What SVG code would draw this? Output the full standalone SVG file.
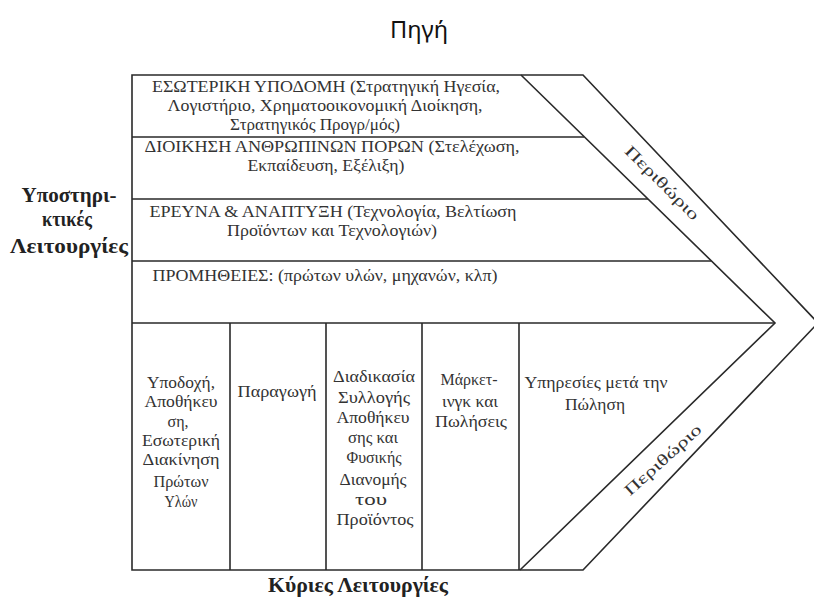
<svg xmlns="http://www.w3.org/2000/svg" width="814" height="599" viewBox="0 0 814 599">
<style>
.ln{stroke:#2a2a2a;stroke-width:1.6;fill:none;stroke-linejoin:miter}
.t{font-family:"Liberation Serif","Times New Roman",serif;font-size:16px;fill:#333;text-anchor:middle}
.b{font-family:"Liberation Serif","Times New Roman",serif;font-size:20px;font-weight:bold;fill:#222;text-anchor:middle}
.h{font-family:"Noto Sans","Open Sans",sans-serif;font-size:23px;fill:#111;text-anchor:middle}
</style>
<rect width="814" height="599" fill="#fff"/>
<text class="h" x="419" y="38" textLength="58" lengthAdjust="spacingAndGlyphs">Πηγή</text>
<g id="frame">
<path class="ln" d="M132,75 H583 L818,323 L583,570 H132 Z"/>
<path class="ln" d="M521,75 L775,323 L520,570"/>
</g>
<g id="connectors">
<path class="ln" d="M132,137 H584 M132,199 H648 M132,261 H711 M132,323 H775"/>
<path class="ln" d="M230,323 V570 M326,323 V570 M422,323 V570 M519,323 V570"/>
</g>
<g id="support-label">
<text class="b" x="69" y="202" textLength="95" lengthAdjust="spacingAndGlyphs">Υποστηρι-</text>
<text class="b" x="67" y="226" textLength="50" lengthAdjust="spacingAndGlyphs">κτικές</text>
<text class="b" x="69" y="253" textLength="118" lengthAdjust="spacingAndGlyphs">Λειτουργίες</text>
</g>
<g id="row-infrastructure">
<text class="t" x="326" y="92" textLength="348" lengthAdjust="spacingAndGlyphs">ΕΣΩΤΕΡΙΚΗ ΥΠΟΔΟΜΗ (Στρατηγική Ηγεσία,</text>
<text class="t" x="325" y="111" textLength="315" lengthAdjust="spacingAndGlyphs">Λογιστήριο, Χρηματοοικονομική Διοίκηση,</text>
<text class="t" x="315" y="130" textLength="170" lengthAdjust="spacingAndGlyphs">Στρατηγικός Προγρ/μός)</text>
</g>
<g id="row-hr">
<text class="t" x="332" y="152" textLength="375" lengthAdjust="spacingAndGlyphs">ΔΙΟΙΚΗΣΗ ΑΝΘΡΩΠΙΝΩΝ ΠΟΡΩΝ (Στελέχωση,</text>
<text class="t" x="326" y="171" textLength="157" lengthAdjust="spacingAndGlyphs">Εκπαίδευση, Εξέλιξη)</text>
</g>
<g id="row-rd">
<text class="t" x="333" y="217" textLength="367" lengthAdjust="spacingAndGlyphs">ΕΡΕΥΝΑ &amp; ΑΝΑΠΤΥΞΗ (Τεχνολογία, Βελτίωση</text>
<text class="t" x="332" y="236" textLength="210" lengthAdjust="spacingAndGlyphs">Προϊόντων και Τεχνολογιών)</text>
</g>
<g id="row-procurement">
<text class="t" x="325" y="281" textLength="345" lengthAdjust="spacingAndGlyphs">ΠΡΟΜΗΘΕΙΕΣ: (πρώτων υλών, μηχανών, κλπ)</text>
</g>
<g id="col-inbound">
<text class="t" x="181" y="388" textLength="68" lengthAdjust="spacingAndGlyphs">Υποδοχή,</text>
<text class="t" x="181" y="407" textLength="73" lengthAdjust="spacingAndGlyphs">Αποθήκευ</text>
<text class="t" x="178" y="427" textLength="21" lengthAdjust="spacingAndGlyphs">ση,</text>
<text class="t" x="181" y="446" textLength="78" lengthAdjust="spacingAndGlyphs">Εσωτερική</text>
<text class="t" x="181" y="465" textLength="77" lengthAdjust="spacingAndGlyphs">Διακίνηση</text>
<text class="t" x="181" y="487" textLength="55" lengthAdjust="spacingAndGlyphs">Πρώτων</text>
<text class="t" x="181" y="507" textLength="33" lengthAdjust="spacingAndGlyphs">Υλών</text>
</g>
<g id="col-operations">
<text class="t" x="277" y="397" textLength="79" lengthAdjust="spacingAndGlyphs">Παραγωγή</text>
</g>
<g id="col-outbound">
<text class="t" x="374" y="382" textLength="82" lengthAdjust="spacingAndGlyphs">Διαδικασία</text>
<text class="t" x="374" y="403" textLength="72" lengthAdjust="spacingAndGlyphs">Συλλογής</text>
<text class="t" x="373" y="423" textLength="73" lengthAdjust="spacingAndGlyphs">Αποθήκευ</text>
<text class="t" x="373" y="443" textLength="50" lengthAdjust="spacingAndGlyphs">σης και</text>
<text class="t" x="374" y="463" textLength="55" lengthAdjust="spacingAndGlyphs">Φυσικής</text>
<text class="t" x="373" y="485" textLength="67" lengthAdjust="spacingAndGlyphs">Διανομής</text>
<text class="t" x="371" y="505" textLength="32" lengthAdjust="spacingAndGlyphs">του</text>
<text class="t" x="375" y="525" textLength="77" lengthAdjust="spacingAndGlyphs">Προϊόντος</text>
</g>
<g id="col-marketing">
<text class="t" x="469" y="385" textLength="57" lengthAdjust="spacingAndGlyphs">Μάρκετ-</text>
<text class="t" x="470" y="407" textLength="56" lengthAdjust="spacingAndGlyphs">ινγκ και</text>
<text class="t" x="471" y="427" textLength="72" lengthAdjust="spacingAndGlyphs">Πωλήσεις</text>
</g>
<g id="col-service">
<text class="t" x="596" y="388" textLength="143" lengthAdjust="spacingAndGlyphs">Υπηρεσίες μετά την</text>
<text class="t" x="595" y="410" textLength="60" lengthAdjust="spacingAndGlyphs">Πώληση</text>
</g>
<g id="margin-labels">
<text class="t" transform="translate(662,183) rotate(45)" y="5" textLength="98" lengthAdjust="spacingAndGlyphs">Περιθώριο</text>
<text class="t" transform="translate(663,460) rotate(-42)" y="5" textLength="98" lengthAdjust="spacingAndGlyphs">Περιθώριο</text>
</g>
<text class="b" x="358" y="592" textLength="180" lengthAdjust="spacingAndGlyphs">Κύριες Λειτουργίες</text>
</svg>
